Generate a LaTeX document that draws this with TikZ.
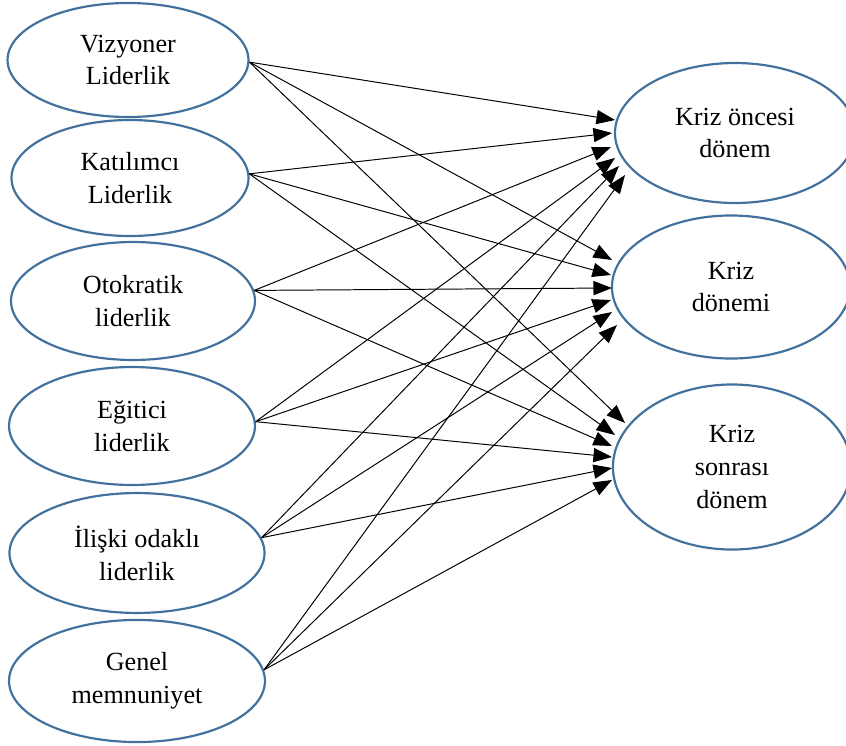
\documentclass[tikz,border=0pt]{standalone}
\usepackage{fontspec}
\setmainfont{Liberation Serif}
\usetikzlibrary{arrows.meta,shapes.geometric,calc}
\definecolor{ellblue}{RGB}{65,113,156}
\begin{document}
\begin{tikzpicture}[x=0.4587pt,y=-0.4587pt,
  ell/.style={ellipse,draw=ellblue,line width=1pt,inner sep=0pt,align=center,font=\fontsize{12pt}{15pt}\selectfont},
  arr/.style={-{Triangle[length=8.5pt,width=6.5pt]},line width=0.45pt,draw=black}]
\useasboundingbox (0,0) rectangle (846,746);
% left nodes
\node[ell,minimum width=110.5pt,minimum height=52.3pt] (viz) at (128,60) {Vizyoner\\Liderlik};
\node[ell,minimum width=108.7pt,minimum height=53.2pt] (kat) at (130,178) {Katılımcı\\Liderlik};
\node[ell,minimum width=111.9pt,minimum height=54.1pt] (oto) at (133,301) {Otokratik\\liderlik};
\node[ell,minimum width=112.8pt,minimum height=54.1pt] (egi) at (132,426) {Eğitici\\liderlik};
\node[ell,minimum width=117.0pt,minimum height=55.0pt] (ili) at (137,553) {İlişki odaklı\\liderlik};
\node[ell,minimum width=117.4pt,minimum height=56.0pt] (gen) at (137,681) {Genel\\memnuniyet};
% right nodes
\node[ell,minimum width=110.1pt,minimum height=64.2pt] (r1) at (735,133) {Kriz öncesi\\dönem};
\node[ell,minimum width=109.2pt,minimum height=65.6pt] (r2) at (731,287) {Kriz\\dönemi};
\node[ell,minimum width=109.2pt,minimum height=75.7pt] (r3) at (732,467) {Kriz\\sonrası\\dönem};
% connectors to r1
\draw[arr] (viz.-1.4) -- ($(r1)+(-120,-13)$);
\draw[arr] (kat.2.4) -- ($(r1)+(-123,0)$);
\draw[arr] (oto.5.7) -- ($(r1)+(-124,14)$);
\draw[arr] (egi.2.3) -- ($(r1)+(-120,25)$);
\draw[arr] (ili.7.4) -- ($(r1)+(-116,33)$);
\draw[arr] (gen.5.9) -- ($(r1)+(-110,42)$);
% connectors to r2
\draw[arr] (viz.-1.4) -- ($(r2)+(-119,-27)$);
\draw[arr] (kat.2.4) -- ($(r2)+(-120,-12)$);
\draw[arr] (oto.5.7) -- ($(r2)+(-119,1)$);
\draw[arr] (egi.2.3) -- ($(r2)+(-120,13)$);
\draw[arr] (ili.7.4) -- ($(r2)+(-119,25)$);
\draw[arr] (gen.5.9) -- ($(r2)+(-114,38)$);
% connectors to r3
\draw[arr] (viz.-1.4) -- ($(r3)+(-107,-44)$);
\draw[arr] (kat.2.4) -- ($(r3)+(-117,-32)$);
\draw[arr] (oto.5.7) -- ($(r3)+(-120,-21)$);
\draw[arr] (egi.2.3) -- ($(r3)+(-120,-10)$);
\draw[arr] (ili.7.4) -- ($(r3)+(-120,1)$);
\draw[arr] (gen.5.9) -- ($(r3)+(-120,13)$);
\end{tikzpicture}
\end{document}
